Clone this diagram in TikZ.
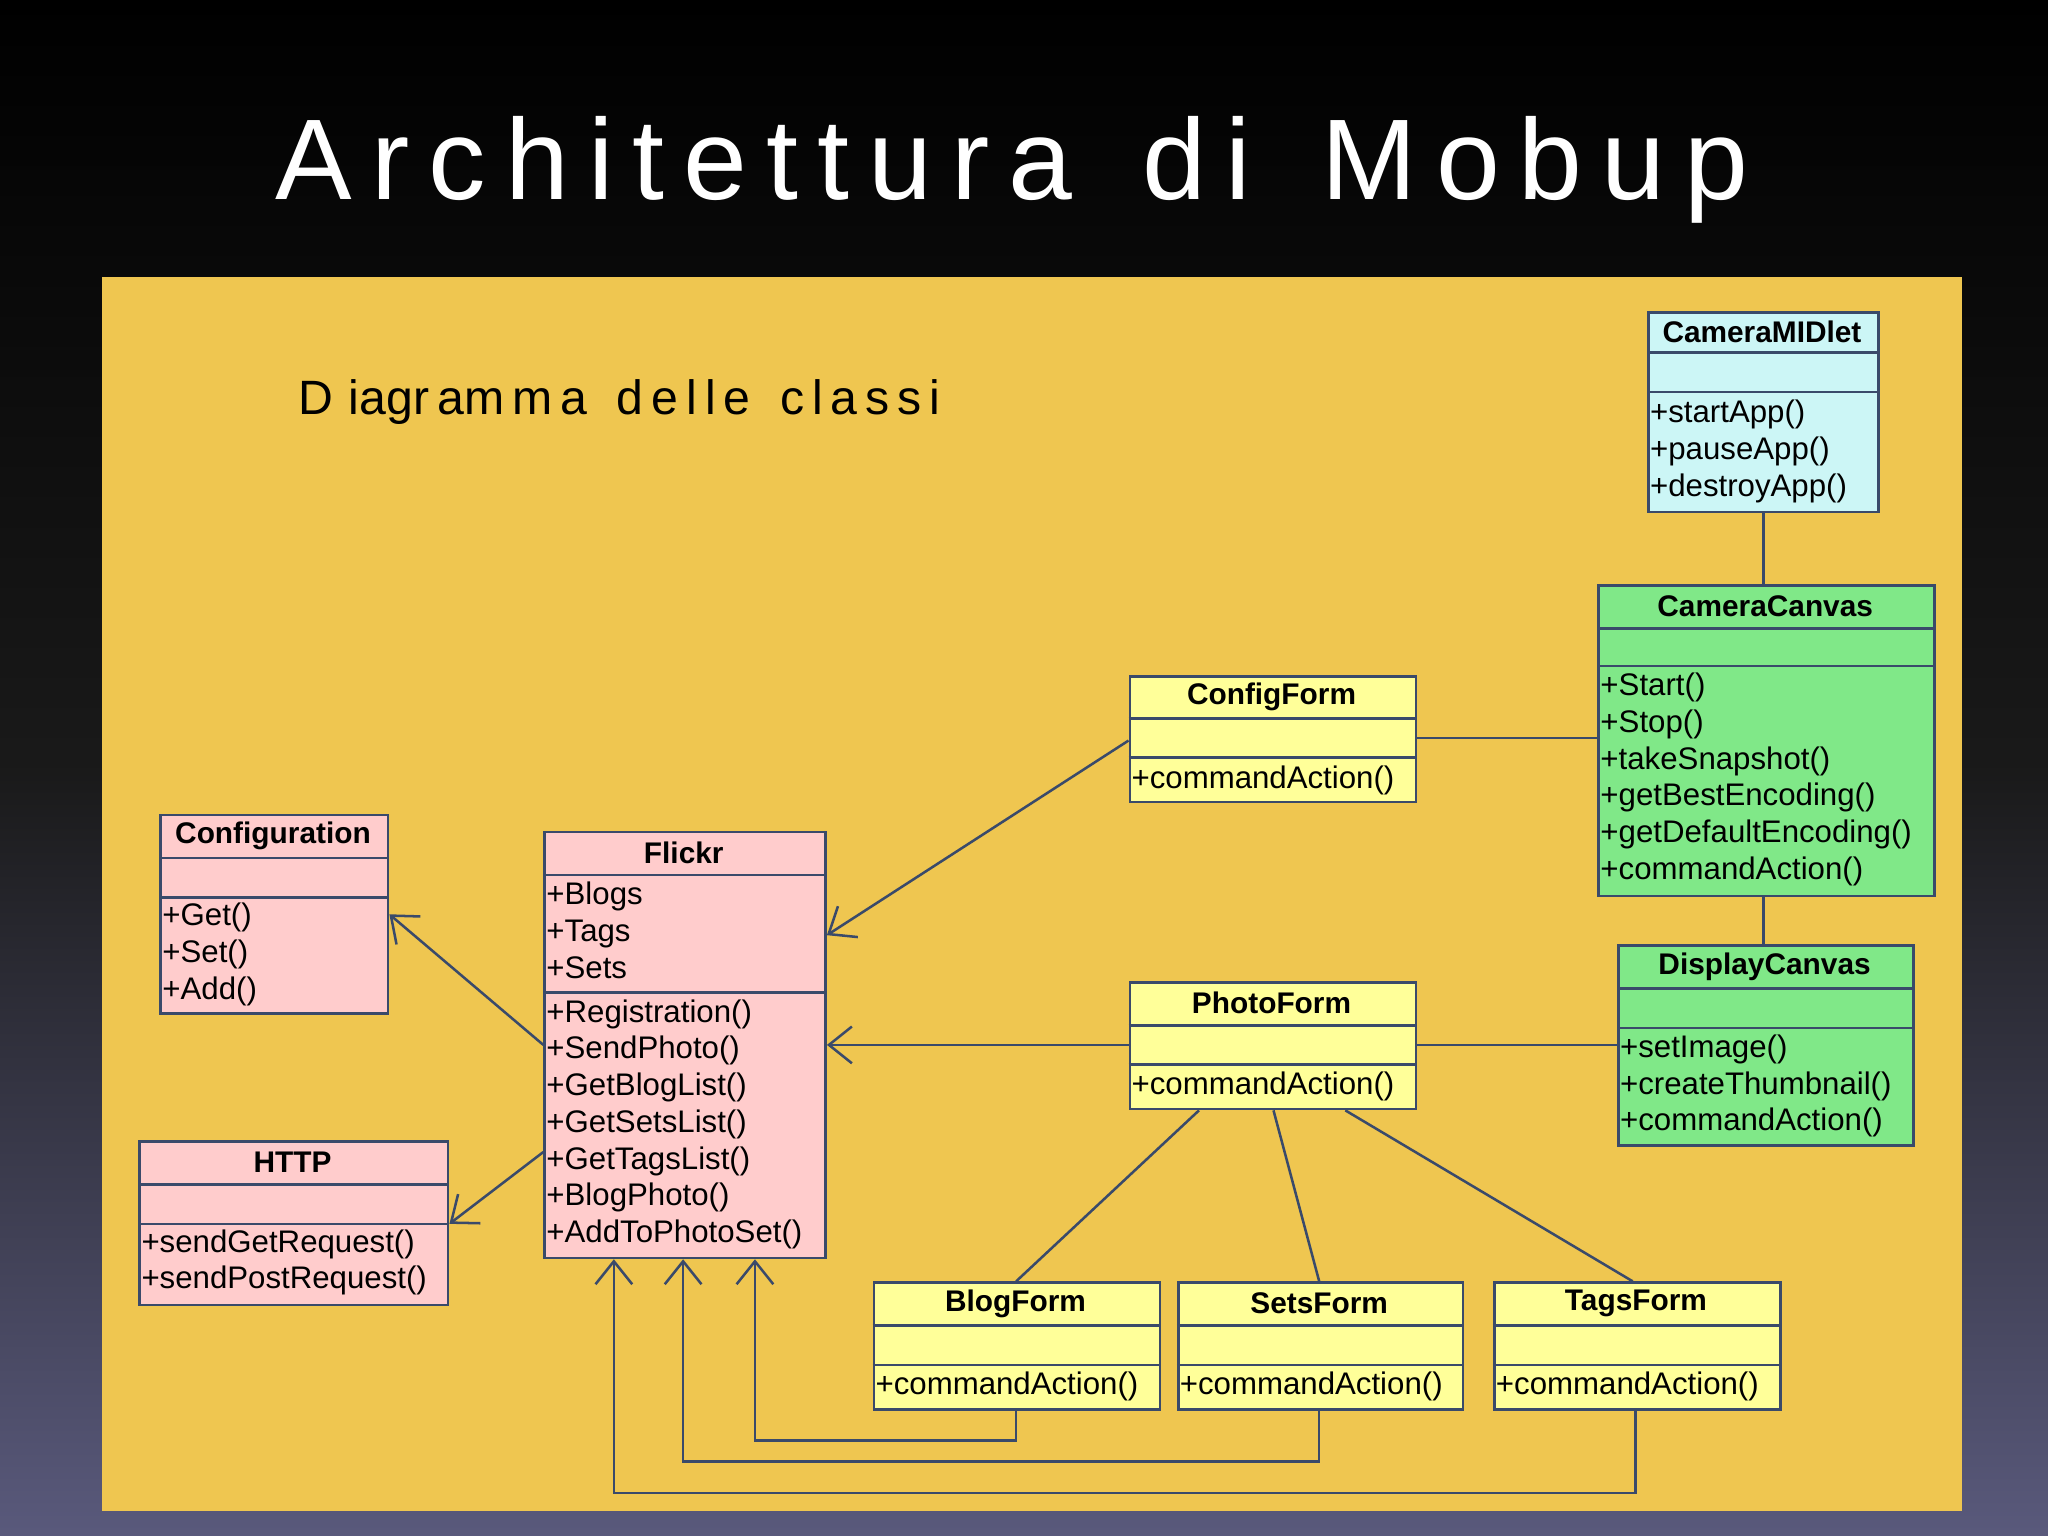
\documentclass[tikz,border=0pt]{standalone}
\usepackage{fontspec}
\setmainfont{Liberation Sans}
\usetikzlibrary{arrows.meta,calc}
\definecolor{panel}{HTML}{EFC650}
\definecolor{cyanc}{HTML}{CCF6F6}
\definecolor{greenc}{HTML}{80E888}
\definecolor{yelc}{HTML}{FFFF99}
\definecolor{pinkc}{HTML}{FFCCCC}
\definecolor{edge}{HTML}{3A4A6A}
\tikzset{
  cls/.style={draw=edge,line width=1.2pt,anchor=north west,inner sep=0pt},
  txt/.style={anchor=north west,inner sep=0pt,align=left,font=\fontsize{13.6}{16}\selectfont},
  hdr/.style={anchor=center,inner sep=0pt,font=\fontsize{13}{14}\selectfont\bfseries},
  conn/.style={draw=edge,line width=1.1pt},
  arr/.style={conn,-{Straight Barb[length=10pt,width=16pt,line width=1.1pt]}}
}
% #1 name #2 x1 #3 y1 #4 x2 #5 y2 #6 header bottom #7 empty bottom #8 fill #9 title
\newcommand{\umlbox}[9]{%
  \node[cls,fill=#8,minimum width={(#4-#2)*0.02cm},minimum height={(#5-#3)*0.02cm}] (#1) at (#2,#3) {};
  \draw[conn] (#2,#6) -- (#4,#6);
  \draw[conn] (#2,#7) -- (#4,#7);
  \node[hdr] (#1t) at ({(#2+#4)/2},{(#3+#6)/2}) {#9};
}
\begin{document}
\begin{tikzpicture}[x=0.02cm,y=-0.02cm]
\shade[top color=black,bottom color=black!55!blue!30!gray,middle color=black!90] (0,0) rectangle (1568,1176);
\useasboundingbox (0,0) rectangle (1568,1176);
\fill[panel] (78,212) rectangle (1502,1157);
\node[white,font=\fontsize{50}{52}\selectfont] (title) at (775,130) {A\,r\,c\,h\,i\,t\,e\,t\,t\,u\,r\,a\, \,d\,i\, \,M\,o\,b\,u\,p};
\node[anchor=west,font=\fontsize{21}{22}\selectfont] (sub) at (222,308) {D\,\,iagr\,am\,m\,a\, \,d\,e\,l\,l\,e\, \,c\,l\,a\,s\,s\,i};

\umlbox{cm}{1261}{238}{1437}{391}{270}{300}{cyanc}{CameraMIDlet}
\node[txt] (cmx) at (1263,306) {+startApp()\\+pauseApp()\\+destroyApp()};
\umlbox{cc}{1223}{447}{1480}{685}{481}{510}{greenc}{CameraCanvas}
\node[txt] (ccx) at (1225,515) {+Start()\\+Stop()\\+takeSnapshot()\\+getBestEncoding()\\+getDefaultEncoding()\\+commandAction()};
\umlbox{dc}{1238}{723}{1464}{876}{757}{787}{greenc}{DisplayCanvas}
\node[txt] (dcx) at (1240,792) {+setImage()\\+createThumbnail()\\+commandAction()};
\umlbox{cf}{864}{517}{1083}{613}{550}{580}{yelc}{ConfigForm}
\node[txt] (cfx) at (866,586) {+commandAction()};
\umlbox{pf}{864}{751}{1083}{848}{785}{815}{yelc}{PhotoForm}
\node[txt] (pfx) at (866,820) {+commandAction()};
\umlbox{co}{122}{623}{296}{775}{657}{687}{pinkc}{Configuration}
\node[txt] (cox) at (124,691) {+Get()\\+Set()\\+Add()};
\umlbox{fl}{416}{636}{631}{962}{670}{760}{pinkc}{Flickr}
\node[txt] (flA) at (418,675) {+Blogs\\+Tags\\+Sets};
\node[txt] (flx) at (418,765) {+Registration()\\+SendPhoto()\\+GetBlogList()\\+GetSetsList()\\+GetTagsList()\\+BlogPhoto()\\+AddToPhotoSet()};
\umlbox{ht}{106}{873}{342}{998}{907}{937}{pinkc}{HTTP}
\node[txt] (htx) at (108,941) {+sendGetRequest()\\+sendPostRequest()};
\umlbox{bf}{668}{981}{887}{1078}{1015}{1045}{yelc}{BlogForm}
\node[txt] (bfx) at (670,1050) {+commandAction()};
\umlbox{sf}{901}{981}{1119}{1078}{1015}{1045}{yelc}{SetsForm}
\node[txt] (sfx) at (903,1050) {+commandAction()};
\umlbox{tf}{1143}{981}{1362}{1078}{1015}{1045}{yelc}{TagsForm}
\node[txt] (tfx) at (1145,1050) {+commandAction()};

\draw[conn] (cm.south -| 1350,0) -- (cc.north -| 1350,0);
\draw[conn] (cc.south -| 1350,0) -- (dc.north -| 1350,0);
\draw[conn] (cf.east |- 0,565) -- (cc.west |- 0,565);
\draw[conn] (pf.east |- 0,800) -- (dc.west |- 0,800);
\draw[arr] (cf.west |- 0,567) -- (fl.east |- 0,716);
\draw[arr] (pf.west |- 0,800) -- (fl.east |- 0,800);
\draw[arr] (fl.west |- 0,800) -- (co.east |- 0,700);
\draw[arr] (fl.west |- 0,882) -- (ht.east |- 0,937);
\draw[conn] (pf.south -| 918,0) -- (bf.north -| 778,0);
\draw[conn] (pf.south -| 975,0) -- (sf.north -| 1010,0);
\draw[conn] (pf.south -| 1030,0) -- (tf.north -| 1250,0);
\draw[arr] (bf.south -| 778,0) -- (778,1103) -- (578,1103) -- (fl.south -| 578,0);
\draw[arr] (sf.south -| 1010,0) -- (1010,1119) -- (523,1119) -- (fl.south -| 523,0);
\draw[arr] (tf.south -| 1252,0) -- (1252,1143) -- (470,1143) -- (fl.south -| 470,0);
\end{tikzpicture}
\end{document}
